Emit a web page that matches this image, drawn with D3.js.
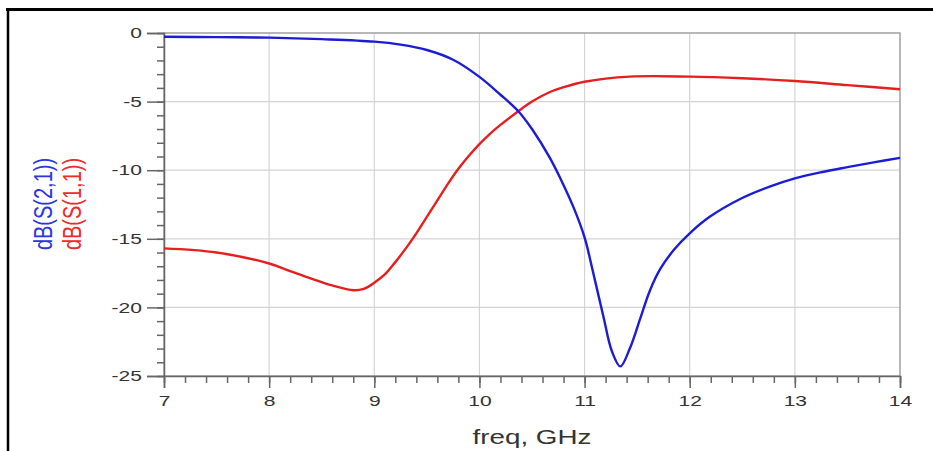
<!DOCTYPE html>
<html>
<head>
<meta charset="utf-8">
<script src="https://cdn.jsdelivr.net/npm/d3@7"></script>
<style>
  body { margin: 0; background: #fff; }
  svg { display: block; font-family: "Liberation Sans", Arial, sans-serif; }
</style>
</head>
<body>
<svg id="chart" width="933" height="451"></svg>
<script>
// S-parameter sweep (freq in GHz, value in dB)
var s21Freq = [7.0, 7.5, 8.0, 8.5, 9.0, 9.25, 9.5, 9.75, 10.0, 10.2, 10.37, 10.5, 10.67, 10.77, 10.9,
               11.0, 11.08, 11.18, 11.26, 11.34, 11.43, 11.53, 11.62, 11.72, 11.85, 12.0, 12.19, 12.48,
               12.76, 13.0, 13.25, 13.5, 13.75, 14.0];
var s21dB   = [-0.27, -0.3, -0.34, -0.45, -0.63, -0.85, -1.24, -1.95, -3.2, -4.5, -5.7, -7.0, -9.1, -10.6, -12.8,
               -14.9, -17.4, -20.7, -23.2, -24.3, -23.0, -20.8, -18.8, -17.2, -15.8, -14.6, -13.4, -12.1,
               -11.2, -10.6, -10.15, -9.78, -9.43, -9.1];

var s11Freq = [7.0, 7.5, 8.0, 8.2, 8.4, 8.6, 8.8, 8.9, 9.0, 9.1, 9.2, 9.3, 9.4, 9.5, 9.6, 9.7, 9.8, 9.9,
               10.0, 10.1, 10.2, 10.37, 10.5, 10.67, 10.8, 11.0, 11.43, 12.0, 12.5, 13.0, 13.5, 14.0];
var s11dB   = [-15.7, -16.0, -16.8, -17.35, -17.9, -18.4, -18.75, -18.65, -18.2, -17.6, -16.7, -15.7, -14.6, -13.4, -12.2, -11.0, -9.9, -8.95,
               -8.1, -7.35, -6.7, -5.7, -5.0, -4.3, -3.95, -3.55, -3.18, -3.18, -3.3, -3.5, -3.8, -4.1];

var xTicks = [7, 8, 9, 10, 11, 12, 13, 14];
var yTicks = [0, -5, -10, -15, -20, -25];

var svg = d3.select("#chart"),
    margin = {top: 33, left: 164, bottom: 75, right: 33},
    width = +svg.attr("width"),
    height = +svg.attr("height");

var x = d3.scaleLinear()
    .domain([7, 14])
    .range([margin.left, width - margin.right]);

var y = d3.scaleLinear()
    .domain([-25, 0])
    .range([height - margin.bottom, margin.top]);

// outer black frame (top and left edges visible)
svg.append("line")
    .attr("x1", 6).attr("x2", width)
    .attr("y1", 9.5).attr("y2", 9.5)
    .attr("stroke", "#000").attr("stroke-width", 3);
svg.append("line")
    .attr("x1", 8).attr("x2", 8)
    .attr("y1", 8).attr("y2", height)
    .attr("stroke", "#000").attr("stroke-width", 2.5);

// grid
svg.append("g")
    .selectAll("line.vg")
    .data(xTicks.slice(1, -1))
    .enter().append("line")
    .attr("x1", d => x(d)).attr("x2", d => x(d))
    .attr("y1", y(0)).attr("y2", y(-25))
    .attr("stroke", "#d4d4d4").attr("stroke-width", 1.2);
svg.append("g")
    .selectAll("line.hg")
    .data(yTicks.slice(1, -1))
    .enter().append("line")
    .attr("x1", x(7)).attr("x2", x(14))
    .attr("y1", d => y(d)).attr("y2", d => y(d))
    .attr("stroke", "#d4d4d4").attr("stroke-width", 1.2);

// plot frame
svg.append("rect")
    .attr("x", x(7)).attr("y", y(0))
    .attr("width", x(14) - x(7)).attr("height", y(-25) - y(0))
    .attr("fill", "none")
    .attr("stroke", "#a0a0a0").attr("stroke-width", 1.5);

// widen horizontal text the way the original renders it
function stretch(sel, k) {
    sel.each(function() {
        var w = this.getComputedTextLength();
        d3.select(this).attr("textLength", w * k).attr("lengthAdjust", "spacingAndGlyphs");
    });
}

// minor ticks
svg.append("g")
    .attr("transform", `translate(${x(7)},0)`)
    .call(d3.axisLeft(y).ticks(25).tickSize(7).tickFormat(""))
    .call(g => g.select(".domain").remove())
    .selectAll("line").attr("stroke", "#666").attr("stroke-width", 1.5);
svg.append("g")
    .attr("transform", `translate(0,${y(-25)})`)
    .call(d3.axisBottom(x).ticks(35).tickSize(7).tickFormat(""))
    .call(g => g.select(".domain").remove())
    .selectAll("line").attr("stroke", "#666").attr("stroke-width", 1.5);

// major ticks + labels
var yAxis = svg.append("g")
    .attr("transform", `translate(${x(7)},0)`)
    .call(d3.axisLeft(y).tickValues(yTicks).tickSize(17).tickPadding(5));
yAxis.select(".domain").attr("stroke", "#666").attr("stroke-width", 1.5);
yAxis.selectAll("line").attr("stroke", "#666").attr("stroke-width", 1.5);
yAxis.selectAll("text")
    .attr("fill", "#333")
    .style("font-size", "14.5px")
    .text(d => d < 0 ? "-" + Math.abs(d) : d)
    .call(stretch, 1.45);

var xAxis = svg.append("g")
    .attr("transform", `translate(0,${y(-25)})`)
    .call(d3.axisBottom(x).tickValues(xTicks).tickSize(12).tickPadding(8).tickFormat(d3.format("d")));
xAxis.select(".domain").attr("stroke", "#666").attr("stroke-width", 1.5);
xAxis.selectAll("line").attr("stroke", "#666").attr("stroke-width", 1.5);
xAxis.selectAll("text")
    .attr("fill", "#333")
    .style("font-size", "14.5px")
    .call(stretch, 1.45);

// x label
svg.append("text")
    .attr("x", 532)
    .attr("y", 444)
    .attr("fill", "#333")
    .style("font-size", "20px")
    .style("text-anchor", "middle")
    .text("freq, GHz")
    .call(stretch, 1.39);

// y labels (two stacked series names)
svg.append("text")
    .attr("transform", "translate(52,204) scale(1.3,1) rotate(-90)")
    .attr("fill", "#2b36e0")
    .style("font-size", "20px")
    .style("text-anchor", "middle")
    .text("dB(S(2,1))");
svg.append("text")
    .attr("transform", "translate(81,204) scale(1.3,1) rotate(-90)")
    .attr("fill", "#ee2a2a")
    .style("font-size", "20px")
    .style("text-anchor", "middle")
    .text("dB(S(1,1))");

// curves
var line = d3.line()
    .x(d => x(d[0]))
    .y(d => y(d[1]))
    .curve(d3.curveCatmullRom.alpha(0.5));

svg.append("path")
    .datum(s11Freq.map((f, i) => [f, s11dB[i]]))
    .attr("d", line)
    .attr("fill", "none")
    .attr("stroke", "#e61e1e")
    .attr("stroke-width", 2.4);

svg.append("path")
    .datum(s21Freq.map((f, i) => [f, s21dB[i]]))
    .attr("d", line)
    .attr("fill", "none")
    .attr("stroke", "#1c1cd6")
    .attr("stroke-width", 2.4);
</script>
</body>
</html>
